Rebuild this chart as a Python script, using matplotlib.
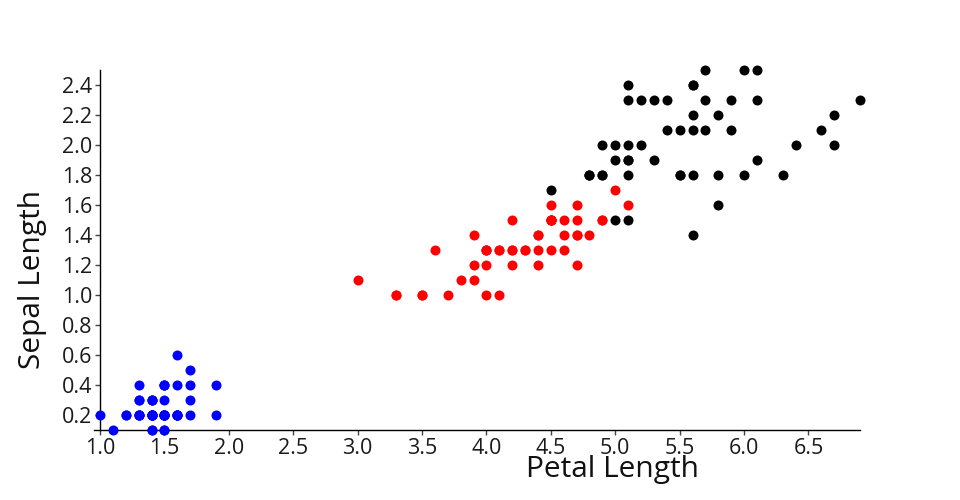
import matplotlib
matplotlib.use("Agg")
import matplotlib.pyplot as plt

plt.rcParams['font.family'] = ['Open Sans', 'DejaVu Sans']

setosa_pl = [1.4,1.4,1.3,1.5,1.4,1.7,1.4,1.5,1.4,1.5,1.5,1.6,1.4,1.1,1.2,1.5,1.3,1.4,1.7,1.5,
             1.7,1.5,1.0,1.7,1.9,1.6,1.6,1.5,1.4,1.6,1.6,1.5,1.5,1.4,1.5,1.2,1.3,1.4,1.3,1.5,
             1.3,1.3,1.3,1.6,1.9,1.4,1.6,1.4,1.5,1.4]
setosa_pw = [0.2,0.2,0.2,0.2,0.2,0.4,0.3,0.2,0.2,0.1,0.2,0.2,0.1,0.1,0.2,0.4,0.4,0.3,0.3,0.3,
             0.2,0.4,0.2,0.5,0.2,0.2,0.4,0.2,0.2,0.2,0.2,0.4,0.1,0.2,0.2,0.2,0.2,0.1,0.2,0.2,
             0.3,0.3,0.2,0.6,0.4,0.3,0.2,0.2,0.2,0.2]
versicolor_pl = [4.7,4.5,4.9,4.0,4.6,4.5,4.7,3.3,4.6,3.9,3.5,4.2,4.0,4.7,3.6,4.4,4.5,4.1,4.5,3.9,
                 4.8,4.0,4.9,4.7,4.3,4.4,4.8,5.0,4.5,3.5,3.8,3.7,3.9,5.1,4.5,4.5,4.7,4.4,4.1,4.0,
                 4.4,4.6,4.0,3.3,4.2,4.2,4.2,4.3,3.0,4.1]
versicolor_pw = [1.4,1.5,1.5,1.3,1.5,1.3,1.6,1.0,1.3,1.4,1.0,1.5,1.0,1.4,1.3,1.4,1.5,1.0,1.5,1.1,
                 1.8,1.3,1.5,1.2,1.3,1.4,1.4,1.7,1.5,1.0,1.1,1.0,1.2,1.6,1.5,1.6,1.5,1.3,1.3,1.3,
                 1.2,1.4,1.2,1.0,1.3,1.2,1.3,1.3,1.1,1.3]
virginica_pl = [6.0,5.1,5.9,5.6,5.8,6.6,4.5,6.3,5.8,6.1,5.1,5.3,5.5,5.0,5.1,5.3,5.5,6.7,6.9,5.0,
                5.7,4.9,6.7,4.9,5.7,6.0,4.8,4.9,5.6,5.8,6.1,6.4,5.6,5.1,5.6,6.1,5.6,5.5,4.8,5.4,
                5.6,5.1,5.1,5.9,5.7,5.2,5.0,5.2,5.4,5.1]
virginica_pw = [2.5,1.9,2.1,1.8,2.2,2.1,1.7,1.8,1.8,2.5,2.0,1.9,2.1,2.0,2.4,2.3,1.8,2.2,2.3,1.5,
                2.3,2.0,2.0,1.8,2.1,1.8,1.8,1.8,2.1,1.6,1.9,2.0,2.2,1.5,1.4,2.3,2.4,1.8,1.8,2.1,
                2.4,2.3,1.9,2.3,2.5,2.3,1.9,2.0,2.3,1.8]

x_ticks = [1.0, 1.5, 2.0, 2.5, 3.0, 3.5, 4.0, 4.5, 5.0, 5.5, 6.0, 6.5]
y_ticks = [0.2, 0.4, 0.6, 0.8, 1.0, 1.2, 1.4, 1.6, 1.8, 2.0, 2.2, 2.4]

W, H = 960, 500
fig = plt.figure(figsize=(9.6, 5.0), dpi=100)
ax = fig.add_axes([100/W, 1 - 430/H, 760/W, 359.5/H])

ms = (10 * 0.72) ** 2
for xs, ys, c in [(setosa_pl, setosa_pw, '#0000ff'),
                  (versicolor_pl, versicolor_pw, '#ff0000'),
                  (virginica_pl, virginica_pw, '#000000')]:
    ax.scatter(xs, ys, s=ms, c=c, linewidths=0, clip_on=False, zorder=3)

ax.set_xlim(1.0, 6.9)
ax.set_ylim(0.1, 2.5)
ax.set_xticks(x_ticks)
ax.set_xticklabels([f"{v:.1f}" for v in x_ticks])
ax.set_yticks(y_ticks)
ax.set_yticklabels([f"{v:.1f}" for v in y_ticks])
for s in ['top', 'right']:
    ax.spines[s].set_visible(False)
for s in ['left', 'bottom']:
    ax.spines[s].set_linewidth(1)
    ax.spines[s].set_color('black')
ax.spines['bottom'].set_bounds(1.0 - 6/129, 6.9)
ax.tick_params(axis='both', direction='out', length=5*0.72, width=1, color='#444444',
               labelsize=15.5, labelcolor='#1a1a1a')
ax.tick_params(axis='x', pad=2)
ax.tick_params(axis='y', pad=2)

fig.text(613/W, 1 - 470/H, 'Petal Length', ha='center', va='center', fontsize=21.5, color='#111111')
fig.text(33/W, 1 - 279/H, 'Sepal Length', ha='center', va='center', rotation=90, fontsize=21.5, color='#111111')

fig.savefig('out.png', dpi=100)
